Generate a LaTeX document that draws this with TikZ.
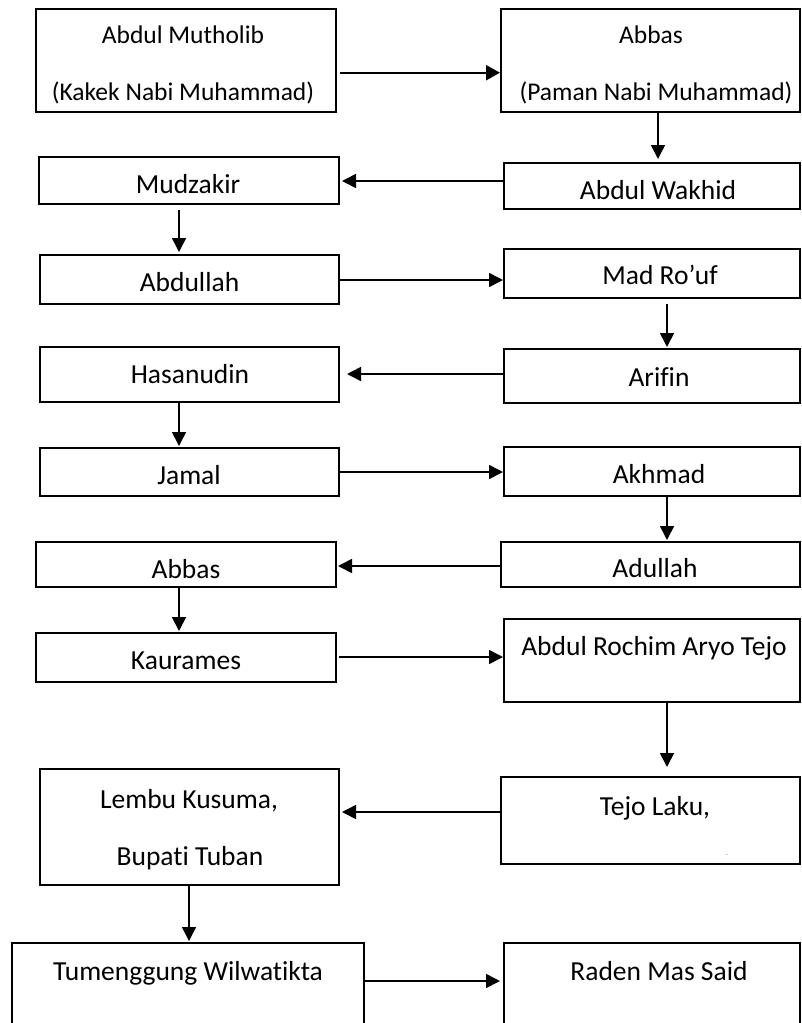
\documentclass[tikz,border=0pt]{standalone}
\usepackage{fontspec}
\setmainfont{Carlito}[Ligatures=NoCommon]
\usetikzlibrary{arrows.meta}
\tikzset{
  box/.style={draw=black, line width=2pt, inner sep=0pt, fill=none},
  lbl/.style={anchor=base, inner sep=0pt, font=\fontsize{27.5}{33}\selectfont},
  lbls/.style={anchor=base, inner sep=0pt, font=\fontsize{25.5}{30}\selectfont},
  arr/.style={line width=1.6pt, -{Triangle[length=14pt,width=14pt]}},
  arrthick/.style={line width=2.4pt, -{Triangle[length=14pt,width=15pt]}},
}
\newcommand{\bx}[5]{\node[box, minimum width={#4-#2}, minimum height={#5-#3}] (#1) at ({(#2+#4)/2},{(#3+#5)/2}) {};}
\begin{document}
\begin{tikzpicture}[x=1pt,y=-1pt]
\useasboundingbox (0,0) rectangle (802,1023);
\clip (0,0) rectangle (802,1023);
% boxes
\bx{b1}{36}{9}{336}{112}
\bx{b2}{501}{9}{800}{112}
\bx{b3}{504}{163}{800}{209}
\bx{b4}{39}{157}{339}{204}
\bx{b5}{40}{255}{339}{304}
\bx{b6}{504}{249}{800}{298}
\bx{b7}{504}{349}{800}{403}
\bx{b8}{40}{347}{339}{402}
\bx{b9}{40}{448}{339}{496}
\bx{b10}{504}{447}{800}{496}
\bx{b11}{501}{542}{800}{587}
\bx{b12}{36}{542}{336}{587}
\bx{b13}{36}{633}{336}{682}
\bx{b14}{504}{619}{800}{702}
\bx{b15}{501}{777}{800}{864}
\bx{b16}{40}{769}{339}{885}
\bx{b17}{12}{943}{364}{1040}
\bx{b18}{504}{943}{800}{1040}
% texts
\node[lbls] (t1a) at (183,43) {Abdul Mutholib};
\node[lbls] (t1b) at (183,100) {(Kakek Nabi Muhammad)};
\node[lbls] (t2a) at (651,43) {Abbas};
\node[lbls] (t2b) at (656,100) {(Paman Nabi Muhammad)};
\node[lbl] (t3) at (658,199) {Abdul Wakhid};
\node[lbl] (t4) at (188,193) {Mudzakir};
\node[lbl] (t5) at (189.5,291) {Abdullah};
\node[lbl] (t6) at (660,284) {Mad Ro’uf};
\node[lbl] (t7) at (659,386) {Arifin};
\node[lbl] (t8) at (190,383) {Hasanudin};
\node[lbl] (t9) at (189,484) {Jamal};
\node[lbl] (t10) at (659,483) {Akhmad};
\node[lbl] (t11) at (655,577) {Adullah};
\node[lbl] (t12) at (186,578) {Abbas};
\node[lbl] (t13) at (186,669) {Kaurames};
\node[lbl] (t14) at (654,655) {Abdul Rochim Aryo Tejo};
\node[lbl] (t15) at (655,815) {Tejo Laku,};
\node[anchor=base, inner sep=0pt, font=\fontsize{5}{6}\selectfont] (t15b) at (727,856) {-};
\node[lbl] (t16a) at (189,808) {Lembu Kusuma,};
\node[lbl] (t16b) at (190,865) {Bupati Tuban};
\node[lbl] (t17) at (188,980) {Tumenggung Wilwatikta};
\node[lbl] (t18) at (659,980) {Raden Mas Said};
% connectors
\draw[arrthick] ([xshift=3pt]b1.east |- 0,72.7) -- (b2.west |- 0,72.7);
\draw[arr] (b2.south -| 658,0) -- ([yshift=3pt]b3.north -| 658,0);
\draw[arr] (b3.west |- 0,181) -- ([xshift=2pt]b4.east |- 0,181);
\draw[arr] ([yshift=-5pt]b4.south -| 179,0) -- ([yshift=2pt]b5.north -| 179,0);
\draw[arr] (b5.east |- 0,280) -- (b6.west |- 0,280);
\draw[arr] ([yshift=-5pt]b6.south -| 667,0) -- ([yshift=1pt]b7.north -| 667,0);
\draw[arr] (b7.west |- 0,374) -- ([xshift=7pt]b8.east |- 0,374);
\draw[arr] (b8.south -| 179,0) -- ([yshift=1pt]b9.north -| 179,0);
\draw[arr] (b9.east |- 0,472) -- (b10.west |- 0,472);
\draw[arr] (b10.south -| 667,0) -- ([yshift=1pt]b11.north -| 667,0);
\draw[arr] (b11.west |- 0,566) -- ([xshift=1pt]b12.east |- 0,566);
\draw[arr] (b12.south -| 179,0) -- ([yshift=1pt]b13.north -| 179,0);
\draw[arr] ([xshift=2pt]b13.east |- 0,657) -- (b14.west |- 0,657);
\draw[arr] (b14.south -| 667,0) -- ([yshift=9pt]b15.north -| 667,0);
\draw[arr] (b15.west |- 0,812) -- ([xshift=2pt]b16.east |- 0,812);
\draw[arr] (b16.south -| 189,0) -- ([yshift=1pt]b17.north -| 189,0);
\draw[arr] (b17.east |- 0,981) -- ([xshift=-3pt]b18.west |- 0,981);
\end{tikzpicture}
\end{document}
